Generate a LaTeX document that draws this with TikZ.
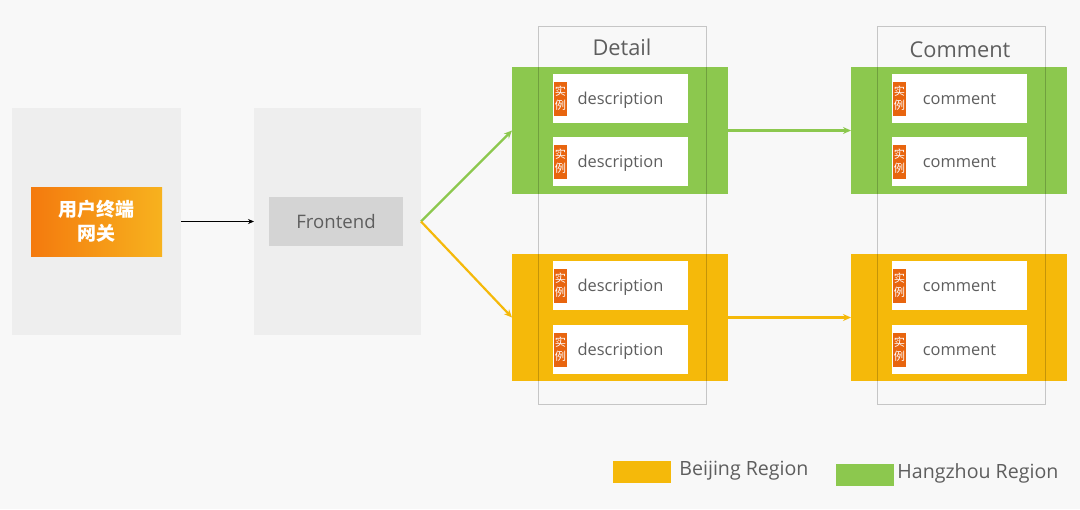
\documentclass[tikz,border=0pt]{standalone}
\usepackage{fontspec}
\setmainfont{Open Sans}
\newfontfamily\cjk{Noto Sans CJK SC}
\usetikzlibrary{arrows.meta}

\definecolor{hzgreen}{HTML}{8CC84E}
\definecolor{bjyellow}{HTML}{F5B90A}
\definecolor{tagorange}{HTML}{E8650F}
\definecolor{gwleft}{HTML}{F47A0E}
\definecolor{gwright}{HTML}{F7B21E}
\definecolor{panelgray}{HTML}{EEEEEE}
\definecolor{bggray}{HTML}{F8F8F8}
\definecolor{txtgray}{HTML}{5E5E5E}

\tikzset{
  px/.style 2 args={minimum width=#1*0.5pt, minimum height=#2*0.5pt, inner sep=0pt, outer sep=0pt},
  panel/.style={fill=panelgray},
  inst/.style={fill=white, px={135}{49}, text=txtgray, text height=6.2pt, text depth=0pt,
    font=\fontsize{8.2}{10}\selectfont},
  tagbox/.style={fill=tagorange, px={13}{34}, text=white, align=center,
    font=\cjk\fontsize{5.6}{6.8}\selectfont},
  column/.style={draw=black, draw opacity=0.2, line width=0.5pt, px={168}{378}},
  title/.style={text=txtgray, font=\fontsize{10.9}{13}\selectfont},
  link/.style={-{Stealth[length=4pt, width=3.5pt]}, line width=1.1pt}
}

\begin{document}
\begin{tikzpicture}[x=0.5pt, y=-0.5pt]
  % tlo
  \fill[bggray] (0,0) rectangle (1080,509);
  \useasboundingbox (0,0) rectangle (1080,509);

  % Brama
  \node[panel, px={169}{227}] (uepanel) at (96.5,221.5) {};
  \node[left color=gwleft, right color=gwright, px={131}{69}, text=white, align=center,
    font=\cjk\bfseries\fontsize{9.5}{12}\selectfont] (gw) at (96.5,221.5) {用户终端\\网关};

  % Frontend
  \node[panel, px={167}{227}] (fepanel) at (337.5,221.5) {};
  \node[fill=black!17, px={134}{49}, text=txtgray, font=\fontsize{9.3}{11}\selectfont] (fe) at (336,221.5) {Frontend};

  \draw[-{Stealth[length=3pt, width=2.5pt]}, line width=0.4pt] (uepanel.east) -- (fepanel.west);

  % Grupy Detail
  \node[fill=hzgreen, px={216}{127}] (dg) at (620,130.5) {};
  \node[fill=bjyellow, px={216}{127}] (dy) at (620,317.5) {};
  \node[inst] (d1) at (620.5,98.5) {description};
  \node[inst] (d2) at (620.5,161.5) {description};
  \node[inst] (d3) at (620.5,285.5) {description};
  \node[inst] (d4) at (620.5,349.5) {description};
  \node[tagbox, anchor=west] (td1) at ([xshift=0.5pt]d1.west) {实\\例};
  \node[tagbox, anchor=west] (td2) at ([xshift=0.5pt]d2.west) {实\\例};
  \node[tagbox, anchor=west] (td3) at ([xshift=0.5pt]d3.west) {实\\例};
  \node[tagbox, anchor=west] (td4) at ([xshift=0.5pt]d4.west) {实\\例};

  % Grupy Comment
  \node[fill=hzgreen, px={216}{127}] (cg) at (959,130.5) {};
  \node[fill=bjyellow, px={216}{127}] (cy) at (959,317.5) {};
  \node[inst] (c1) at (959.5,98.5) {comment};
  \node[inst] (c2) at (959.5,161.5) {comment};
  \node[inst] (c3) at (959.5,285.5) {comment};
  \node[inst] (c4) at (959.5,349.5) {comment};
  \node[tagbox, anchor=west] (tc1) at ([xshift=0.5pt]c1.west) {实\\例};
  \node[tagbox, anchor=west] (tc2) at ([xshift=0.5pt]c2.west) {实\\例};
  \node[tagbox, anchor=west] (tc3) at ([xshift=0.5pt]c3.west) {实\\例};
  \node[tagbox, anchor=west] (tc4) at ([xshift=0.5pt]c4.west) {实\\例};

  % Kolumny
  \node[column] (detail) at (622,215) {};
  \node[column] (comment) at (961,215) {};
  \node[title] (dtitle) at (622,47) {Detail};
  \node[title] (ctitle) at (960,50) {Comment};

  % Polaczenia
  \draw[link, hzgreen] (fepanel.east) -- (dg.west);
  \draw[link, bjyellow] (fepanel.east) -- (dy.west);
  \draw[link, hzgreen] (dg.east) -- (cg.west);
  \draw[link, bjyellow] (dy.east) -- (cy.west);

  % Legenda
  \node[fill=bjyellow, px={58}{22}] (bjkey) at (642,472) {};
  \node[anchor=west, inner sep=0pt, text=txtgray, font=\fontsize{9.8}{12}\selectfont] (bjtext) at (679,471) {Beijing Region};
  \node[fill=hzgreen, px={58}{22}] (hzkey) at (865,475) {};
  \node[anchor=west, inner sep=0pt, text=txtgray, font=\fontsize{9.8}{12}\selectfont] (hztext) at (897,473) {Hangzhou Region};
\end{tikzpicture}
\end{document}
